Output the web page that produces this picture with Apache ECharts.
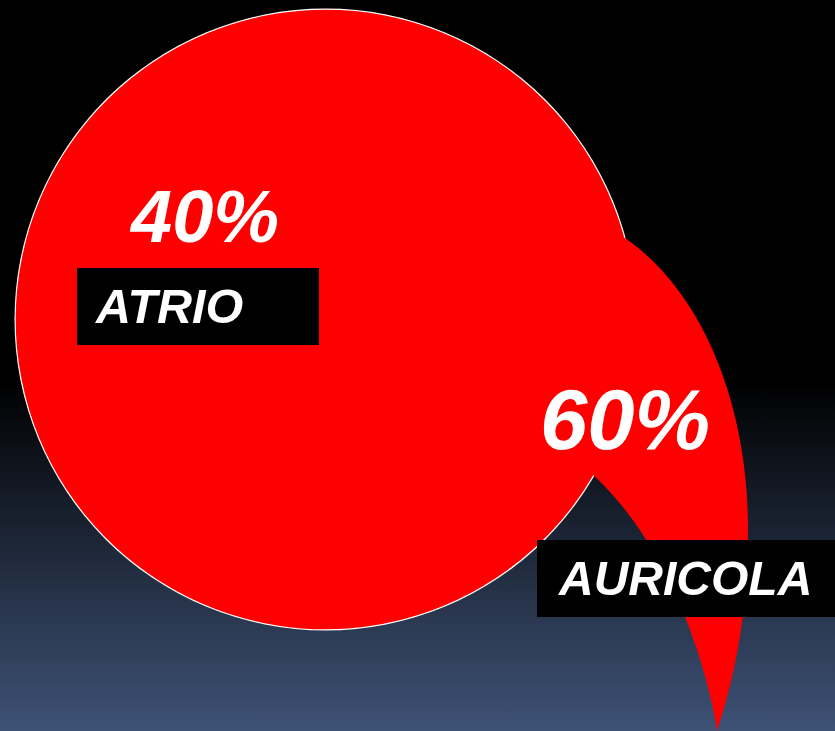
<!DOCTYPE html>
<html>
<head>
<meta charset="utf-8">
<script src="https://cdn.jsdelivr.net/npm/echarts@6/dist/echarts.min.js"></script>
<style>
html,body{margin:0;padding:0;}
#c{width:835px;height:731px;background:linear-gradient(to bottom,#000 0%,#000 52%,#3e5276 100%);}
</style>
</head>
<body>
<div id="c"></div>
<script>
// Data
const categories = ['ATRIO', 'AURICOLA'];
const values = [40, 60];

const chart = echarts.init(document.getElementById('c'), null, {renderer: 'canvas'});
const RED = '#ff0000';
const cx = 325.5, cy = 319.5, R = 309;

const pieData = categories.map((name, i) => ({name: name, value: values[i]}));

const font = (size) => 'italic bold ' + size + 'px "Liberation Sans", Arial, sans-serif';

// decorative auricle outline (cubic bezier segments sampled into a polygon)
function cubic(p0, p1, p2, p3, n) {
  const pts = [];
  for (let i = 0; i <= n; i++) {
    const t = i / n, u = 1 - t;
    pts.push([
      u*u*u*p0[0] + 3*u*u*t*p1[0] + 3*u*t*t*p2[0] + t*t*t*p3[0],
      u*u*u*p0[1] + 3*u*u*t*p1[1] + 3*u*t*t*p2[1] + t*t*t*p3[1]
    ]);
  }
  return pts;
}
const swoosh = [[560, 300]]
  .concat(cubic([622, 236], [700, 288], [748, 400], [748, 530], 40))
  .concat(cubic([748, 530], [748, 620], [732, 685], [717, 731], 30))
  .concat(cubic([717, 731], [705, 655], [665, 540], [592, 474], 40));

chart.setOption({
  backgroundColor: 'transparent',
  animation: false,
  series: [
    {
      type: 'pie', silent: true, center: [cx, cy], radius: [0, R + 2],
      label: {show: false}, labelLine: {show: false},
      itemStyle: {color: '#ffffff', borderWidth: 0},
      data: [{name: 'outline', value: 1}], z: 1
    },
    {
      type: 'pie', silent: true, center: [cx, cy], radius: [0, R],
      startAngle: 90,
      label: {show: false}, labelLine: {show: false},
      itemStyle: {color: RED, borderWidth: 1.5, borderColor: RED},
      data: pieData, z: 2
    }
  ],
  graphic: [
    {
      type: 'polygon', z: 10,
      shape: {points: swoosh},
      style: {fill: RED}
    },
    {
      type: 'text', z: 20, x: 131, y: 222,
      style: {text: values[0] + '%', font: font(74), fill: '#fff', verticalAlign: 'middle', align: 'left'}
    },
    {
      type: 'rect', z: 20, shape: {x: 77, y: 268, width: 242, height: 77}, style: {fill: '#000'}
    },
    {
      type: 'text', z: 21, x: 96, y: 310,
      style: {text: categories[0], font: font(48.5), fill: '#fff', verticalAlign: 'middle', align: 'left'}
    },
    {
      type: 'text', z: 20, x: 540, y: 426,
      style: {text: values[1] + '%', font: font(85), fill: '#fff', verticalAlign: 'middle', align: 'left'}
    },
    {
      type: 'rect', z: 20, shape: {x: 537, y: 540, width: 298, height: 77}, style: {fill: '#000'}
    },
    {
      type: 'text', z: 21, x: 559, y: 582,
      style: {text: categories[1], font: font(48), fill: '#fff', verticalAlign: 'middle', align: 'left'}
    }
  ]
});
</script>
</body>
</html>
